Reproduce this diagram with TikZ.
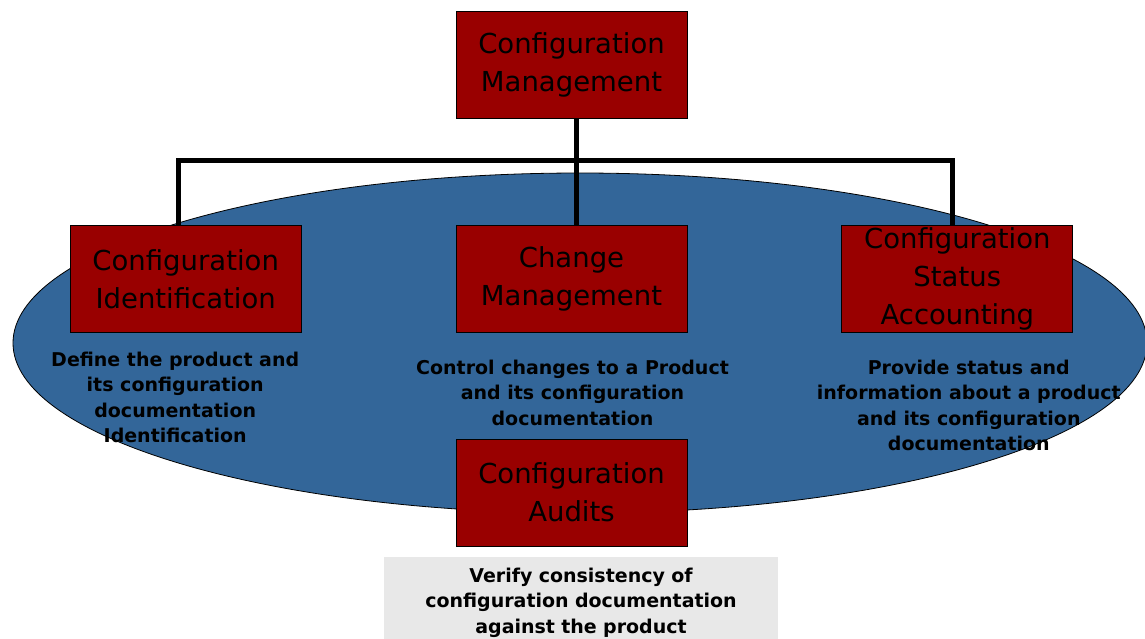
\documentclass[tikz,border=0pt]{standalone}
\usepackage{fontspec}
\setmainfont{DejaVu Sans}
\usetikzlibrary{positioning}

\definecolor{boxred}{RGB}{153,0,0}
\definecolor{ovalblue}{RGB}{51,102,153}

\begin{document}
\begin{tikzpicture}[x=1pt,y=-1pt,
box/.style={rectangle,draw=black,line width=0.8pt,fill=boxred,inner sep=0pt,
  text width=231pt,minimum width=231pt,minimum height=107pt,align=center,
  font=\fontsize{27.5}{38}\selectfont},
desc/.style={anchor=north,inner sep=0pt,align=center,
  font=\bfseries\fontsize{19}{25.5}\selectfont},
conn/.style={line width=5pt,black}]
	\clip (0,0) rectangle (1145,638);
	%background oval
	\fill[ovalblue,draw=black,line width=0.8pt] (580,343) ellipse [x radius=567pt, y radius=170pt];

	%boxes
	\node[box] at (571.5,65) (cm) {Configuration\\Management};
	\node[box,below=106pt of cm] (chg) {Change\\Management};
	\node[box,left=154pt of chg] (ci) {Configuration\\Identification};
	\node[box,right=154pt of chg] (csa) {Configuration\\Status\\Accounting};
	\node[box,below=106pt of chg] (aud) {Configuration\\Audits};

	%tree lines
	\coordinate (bar) at ([yshift=-42pt]cm.south);
	\draw[conn] ([xshift=5pt]cm.south) -- ([xshift=5pt]chg.north);
	\draw[conn] ([xshift=-7.5pt]ci.north) |- (bar) -| ([xshift=-4.5pt]csa.north);

	%descriptions
	\node[desc] at ([xshift=-10.5pt,yshift=-19pt]ci.south) (cidesc) {Define the product and\\its configuration\\documentation\\Identification};
	\node[desc] at ([xshift=1pt,yshift=-27pt]chg.south) (chgdesc) {Control changes to a Product\\and its configuration\\documentation};
	\node[desc] at ([xshift=11.5pt,yshift=-27pt]csa.south) (csadesc) {Provide status and\\information about a product\\and its configuration\\documentation};
	\node[desc,fill=black!9,text width=394pt,inner xsep=0pt,inner ysep=11pt] at ([xshift=9.5pt,yshift=-10pt]aud.south) (auddesc) {Verify consistency of\\configuration documentation\\against the product};
\end{tikzpicture}
\end{document}
